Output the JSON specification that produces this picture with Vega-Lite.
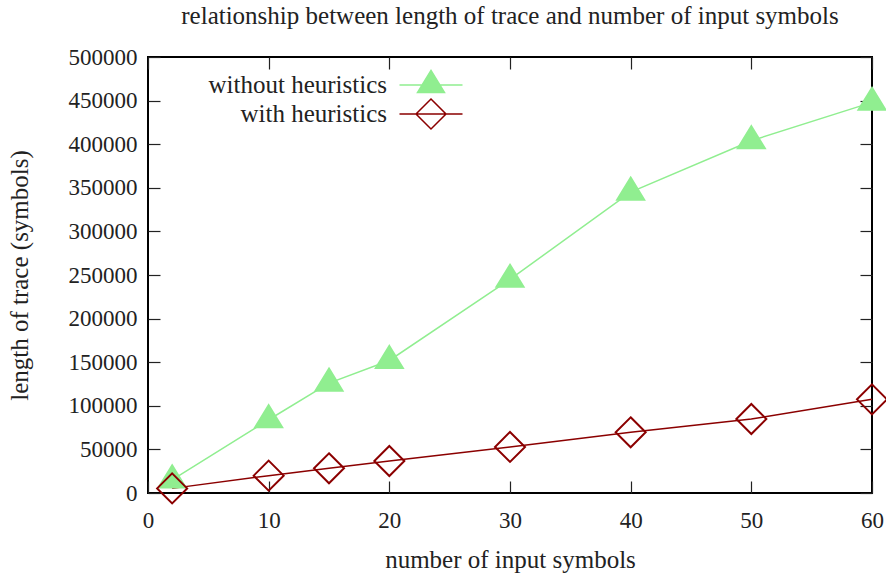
{
  "$schema": "https://vega.github.io/schema/vega-lite/v6.json",
  "width": 724,
  "height": 436,
  "autosize": {"type": "none"},
  "padding": {"left": 148, "top": 57, "right": 14, "bottom": 82},
  "background": "white",
  "title": {
    "text": "relationship between length of trace and number of input symbols",
    "font": "Liberation Serif",
    "fontSize": 25,
    "fontWeight": "normal",
    "color": "#222222",
    "offset": 17
  },
  "config": {
    "view": {"stroke": "black", "strokeWidth": 2},
    "font": "Liberation Serif",
    "axis": {
      "domain": false,
      "grid": false,
      "labelFont": "Liberation Serif",
      "labelFontSize": 23,
      "labelColor": "#222222",
      "labelFlush": false,
      "titleFont": "Liberation Serif",
      "titleFontSize": 25,
      "titleFontWeight": "normal",
      "titleColor": "#222222",
      "tickColor": "#222222",
      "tickWidth": 1.2,
      "tickSize": -12
    }
  },
  "data": {
    "values": [
      {"n": 2, "len": 15000, "series": "without heuristics"},
      {"n": 10, "len": 84000, "series": "without heuristics"},
      {"n": 15, "len": 126000, "series": "without heuristics"},
      {"n": 20, "len": 152000, "series": "without heuristics"},
      {"n": 30, "len": 245000, "series": "without heuristics"},
      {"n": 40, "len": 345000, "series": "without heuristics"},
      {"n": 50, "len": 404000, "series": "without heuristics"},
      {"n": 60, "len": 448000, "series": "without heuristics"},
      {"n": 2, "len": 5300, "series": "with heuristics"},
      {"n": 10, "len": 19900, "series": "with heuristics"},
      {"n": 15, "len": 28300, "series": "with heuristics"},
      {"n": 20, "len": 36700, "series": "with heuristics"},
      {"n": 30, "len": 52800, "series": "with heuristics"},
      {"n": 40, "len": 69600, "series": "with heuristics"},
      {"n": 50, "len": 84900, "series": "with heuristics"},
      {"n": 60, "len": 107400, "series": "with heuristics"}
    ]
  },
  "resolve": {
    "scale": {"shape": "independent", "stroke": "independent", "fill": "independent"},
    "axis": {"x": "independent", "y": "independent"}
  },
  "layer": [
    {
      "mark": {"type": "line", "strokeWidth": 1.5},
      "encoding": {
        "x": {
          "field": "n", "type": "quantitative",
          "scale": {"domain": [0, 60], "nice": false},
          "axis": {"orient": "bottom", "values": [0, 10, 20, 30, 40, 50, 60], "title": "number of input symbols", "labelPadding": 28, "titlePadding": 15}
        },
        "y": {
          "field": "len", "type": "quantitative",
          "scale": {"domain": [0, 500000], "nice": false},
          "axis": {"orient": "left", "values": [0, 50000, 100000, 150000, 200000, 250000, 300000, 350000, 400000, 450000, 500000], "format": "d", "title": "length of trace (symbols)", "labelPadding": 23, "titlePadding": 36}
        },
        "stroke": {
          "field": "series", "type": "nominal",
          "scale": {"domain": ["without heuristics", "with heuristics"], "range": ["#90ee90", "#8b0000"]},
          "legend": null
        },
        "order": {"field": "series", "sort": "descending"}
      }
    },
    {
      "mark": {"type": "point", "strokeWidth": 2, "size": 900, "opacity": 1},
      "encoding": {
        "x": {"field": "n", "type": "quantitative", "axis": null},
        "y": {"field": "len", "type": "quantitative", "axis": null},
        "shape": {
          "field": "series", "type": "nominal",
          "scale": {"domain": ["without heuristics", "with heuristics"], "range": ["M0,-0.97L0.9,0.5L-0.9,0.5Z", "M0,-1L1,0L0,1L-1,0Z"]},
          "legend": null
        },
        "stroke": {
          "field": "series", "type": "nominal",
          "scale": {"domain": ["without heuristics", "with heuristics"], "range": ["#90ee90", "#8b0000"]},
          "legend": null
        },
        "fill": {
          "field": "series", "type": "nominal",
          "scale": {"domain": ["without heuristics", "with heuristics"], "range": ["#90ee90", "transparent"]},
          "legend": null
        }
      }
    },
    {
      "mark": {"type": "point", "strokeWidth": 1.5, "size": 900, "opacity": 0},
      "encoding": {
        "x": {
          "field": "n", "type": "quantitative",
          "axis": {"orient": "top", "values": [0, 10, 20, 30, 40, 50, 60], "labels": false, "title": null}
        },
        "y": {
          "field": "len", "type": "quantitative",
          "axis": {"orient": "right", "values": [0, 50000, 100000, 150000, 200000, 250000, 300000, 350000, 400000, 450000, 500000], "labels": false, "title": null}
        },
        "shape": {
          "field": "series", "type": "nominal",
          "scale": {"domain": ["without heuristics", "with heuristics"], "range": ["M-2.1,0H2.1M0,-0.97L0.9,0.5L-0.9,0.5Z", "M-2.1,0H2.1M0,-1L1,0L0,1L-1,0Z"]},
          "legend": {
            "title": null,
            "orient": "none",
            "legendX": 267,
            "legendY": 12,
            "symbolOpacity": 1,
            "symbolSize": 900,
            "symbolStrokeWidth": 1.5,
            "labelFont": "Liberation Serif",
            "labelFontSize": 25,
            "labelColor": "#222222",
            "labelAlign": "right",
            "labelOffset": -60,
            "rowPadding": -2,
            "labelLimit": 400
          }
        },
        "stroke": {
          "field": "series", "type": "nominal",
          "scale": {"domain": ["without heuristics", "with heuristics"], "range": ["#90ee90", "#8b0000"]}
        },
        "fill": {
          "field": "series", "type": "nominal",
          "scale": {"domain": ["without heuristics", "with heuristics"], "range": ["#90ee90", "transparent"]}
        }
      }
    }
  ]
}
